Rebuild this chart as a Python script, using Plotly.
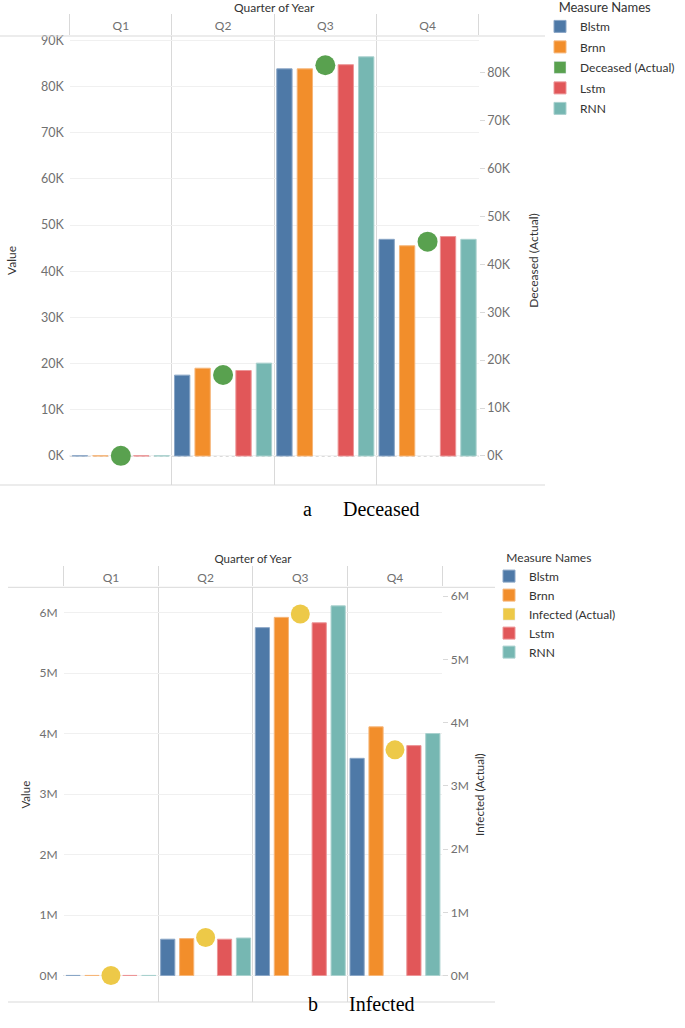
import plotly.graph_objects as go

# ---------------- data ----------------
quarters = ["Q1", "Q2", "Q3", "Q4"]
model_names = ["Blstm", "Brnn", "Lstm", "RNN"]

# Deceased panel
deceased_blstm = [40, 17500, 83800, 46900]
deceased_brnn = [38, 19000, 83800, 45500]
deceased_lstm = [42, 18500, 84700, 47500]
deceased_rnn = [37, 20100, 86400, 46900]
deceased_actual = [35, 16900, 81500, 44700]

# Infected panel
infected_blstm = [1500, 600000, 5750000, 3590000]
infected_brnn = [1450, 610000, 5920000, 4110000]
infected_lstm = [1550, 600000, 5830000, 3800000]
infected_rnn = [1480, 620000, 6110000, 4000000]
infected_actual = [1400, 600000, 5720000, 3570000]

# tick labels
dec_left_vals = [0, 10000, 20000, 30000, 40000, 50000, 60000, 70000, 80000, 90000]
dec_left_text = ["0K", "10K", "20K", "30K", "40K", "50K", "60K", "70K", "80K", "90K"]
dec_right_vals = [0, 10000, 20000, 30000, 40000, 50000, 60000, 70000, 80000]
dec_right_text = ["0K", "10K", "20K", "30K", "40K", "50K", "60K", "70K", "80K"]
inf_vals = [0, 1000000, 2000000, 3000000, 4000000, 5000000, 6000000]
inf_text = ["0M", "1M", "2M", "3M", "4M", "5M", "6M"]

# ---------------- style ----------------
COLORS = {"Blstm": "#4E79A7", "Brnn": "#F28E2B", "Lstm": "#E15759", "RNN": "#76B7B2"}
EDGE = {"Blstm": "#8aa6c6", "Brnn": "#f6b679", "Lstm": "#ec9597", "RNN": "#a9d1ce"}
GREEN = "#59A14F"
YELLOW = "#EDC948"
SLOT = {"Blstm": 0, "Brnn": 1, "Lstm": 3, "RNN": 4}
FONT = "Lato, 'Open Sans', sans-serif"
GRID = "#d9d9d9"
LIGHT = "#f0f0f0"
TICKC = "#707070"
TITLEC = "#333333"

W, H = 685, 1028


def px_x(p):
    return p / W


def px_y(p):
    return 1 - p / H


NB = "\u00a0"

fig = go.Figure()

panels = [
    dict(xa="x", yl="y", yr="y2", leg="legend",
         series={"Blstm": deceased_blstm, "Brnn": deceased_brnn,
                 "Lstm": deceased_lstm, "RNN": deceased_rnn},
         actual=deceased_actual, actual_name="Deceased (Actual)", actual_color=GREEN,
         msize=20),
    dict(xa="x2", yl="y3", yr="y4", leg="legend2",
         series={"Blstm": infected_blstm, "Brnn": infected_brnn,
                 "Lstm": infected_lstm, "RNN": infected_rnn},
         actual=infected_actual, actual_name="Infected (Actual)", actual_color=YELLOW,
         msize=19),
]

slot_w = 0.2
bar_w = 0.15
legend_order = ["Blstm", "Brnn", "ACTUAL", "Lstm", "RNN"]
for pi, p in enumerate(panels):
    for m in legend_order:
        if m == "ACTUAL":
            # square legend swatch for the actual series (values empty: no bars drawn)
            fig.add_trace(go.Bar(
                x=quarters, y=[None] * len(quarters), name=p["actual_name"],
                xaxis=p["xa"], yaxis=p["yl"], legend=p["leg"],
                legendgroup=f"p{pi}_actual",
                marker=dict(color=p["actual_color"]), hoverinfo="skip",
            ))
            continue
        fig.add_trace(go.Bar(
            x=quarters, y=p["series"][m], name=m,
            xaxis=p["xa"], yaxis=p["yl"], legend=p["leg"], legendgroup=f"p{pi}_{m}",
            marker=dict(color=COLORS[m], line=dict(color=EDGE[m], width=1)),
            width=bar_w, offset=-0.5 + SLOT[m] * slot_w + (slot_w - bar_w) / 2,
            hoverinfo="x+y+name",
        ))
    fig.add_trace(go.Scatter(
        x=quarters, y=p["actual"], name=p["actual_name"], mode="markers",
        xaxis=p["xa"], yaxis=p["yr"], showlegend=False,
        marker=dict(color=p["actual_color"], size=p["msize"], line=dict(width=0)),
    ))

xa_common = dict(
    type="category", categoryorder="array", categoryarray=quarters,
    side="top", tickson="boundaries", showgrid=True, gridcolor=GRID, gridwidth=1,
    ticks="outside", tickcolor=GRID, tickwidth=1, showline=False, zeroline=False,
    tickfont=dict(family=FONT, size=12, color=TICKC), automargin=False,
    fixedrange=True,
)
y_common = dict(zeroline=False, fixedrange=True, automargin=False)

fig.update_layout(
    width=W, height=H, margin=dict(l=0, r=0, t=0, b=0, autoexpand=False),
    paper_bgcolor="white", plot_bgcolor="white",
    barmode="overlay", font=dict(family=FONT, color=TITLEC),
    xaxis=dict(xa_common, domain=[px_x(69.7), px_x(478.7)], anchor="y",
               ticklen=21, ticklabelstandoff=3,
               title=dict(text="Quarter of Year", standoff=3,
                          font=dict(family=FONT, size=12, color=TITLEC))),
    yaxis=dict(y_common, domain=[px_y(485), px_y(36)], range=[-6280, 90910],
               tickvals=dec_left_vals, ticktext=dec_left_text, ticklabelstandoff=5,
               tickfont=dict(family=FONT, size=12.5, color=TICKC),
               showgrid=True, gridcolor=LIGHT, anchor="x",
               title=dict(text="Value", standoff=21,
                          font=dict(family=FONT, size=12, color=TITLEC))),
    yaxis2=dict(y_common, overlaying="y", side="right", anchor="x",
                range=[-6050, 87590], tickvals=dec_right_vals, ticktext=dec_right_text,
                tickfont=dict(family=FONT, size=12.5, color=TICKC),
                showgrid=False, ticks="outside", ticklen=5, tickcolor=GRID,
                title=dict(text="Deceased (Actual)", standoff=19,
                           font=dict(family=FONT, size=12, color=TITLEC))),
    xaxis2=dict(xa_common, domain=[px_x(63.6), px_x(442.3)], anchor="y3",
                ticklen=20, ticklabelstandoff=2,
                title=dict(text="Quarter of Year", standoff=3,
                           font=dict(family=FONT, size=11.5, color=TITLEC))),
    yaxis3=dict(y_common, domain=[px_y(1002), px_y(587.3)], range=[-438000, 6417000],
                tickvals=inf_vals, ticktext=inf_text, ticklabelstandoff=5,
                tickfont=dict(family=FONT, size=12, color=TICKC),
                showgrid=True, gridcolor=LIGHT, anchor="x2",
                title=dict(text="Value", standoff=6,
                           font=dict(family=FONT, size=11.5, color=TITLEC))),
    yaxis4=dict(y_common, overlaying="y3", side="right", anchor="x2",
                range=[-419000, 6142000], tickvals=inf_vals, ticktext=inf_text,
                tickfont=dict(family=FONT, size=12, color=TICKC),
                showgrid=False, ticks="outside", ticklen=5, tickcolor=GRID,
                title=dict(text="Infected (Actual)", standoff=8,
                           font=dict(family=FONT, size=11.5, color=TITLEC))),
    legend=dict(x=px_x(540), y=px_y(-5), xanchor="left", yanchor="top",
                title=dict(text=NB * 5 + "Measure Names",
                           font=dict(family=FONT, size=13, color=TITLEC)),
                font=dict(family=FONT, size=12, color=TITLEC),
                traceorder="grouped", tracegroupgap=1.5,
                itemclick=False, itemdoubleclick=False, bgcolor="rgba(0,0,0,0)"),
    legend2=dict(x=px_x(489), y=px_y(546), xanchor="left", yanchor="top",
                 title=dict(text=NB * 5 + "Measure Names",
                            font=dict(family=FONT, size=12, color=TITLEC)),
                 font=dict(family=FONT, size=12, color=TITLEC),
                 traceorder="grouped", tracegroupgap=0,
                 itemclick=False, itemdoubleclick=False, bgcolor="rgba(0,0,0,0)"),
    showlegend=True,
)

shapes = []
# header / bottom border lines
for y0, xa, xb in [(36, 0, 545), (485, 0, 545), (587.3, 8, 495), (1002, 8, 495)]:
    shapes.append(dict(type="line", xref="paper", yref="paper",
                       x0=px_x(xa), x1=px_x(xb), y0=px_y(y0), y1=px_y(y0),
                       line=dict(color=GRID, width=1)))
# dotted zero lines
for xr, yr in [("x", "y"), ("x2", "y3")]:
    shapes.append(dict(type="line", xref=xr + " domain", yref=yr, x0=0, x1=1, y0=0, y1=0,
                       line=dict(color="#b5b5b5", width=1, dash="dot"), layer="below"))
fig.update_layout(shapes=shapes)

CAP = "'Liberation Serif', 'Times New Roman', serif"
fig.add_annotation(text="a", x=px_x(307), y=px_y(509), xref="paper", yref="paper",
                   showarrow=False, font=dict(family=CAP, size=20, color="black"))
fig.add_annotation(text="Deceased", x=px_x(341), y=px_y(509), xref="paper", yref="paper",
                   xanchor="left", showarrow=False, font=dict(family=CAP, size=20, color="black"))
fig.add_annotation(text="b", x=px_x(313), y=px_y(1017), xref="paper", yref="paper",
                   showarrow=False, font=dict(family=CAP, size=20, color="black"))
fig.add_annotation(text="Infected", x=px_x(347), y=px_y(1017), xref="paper", yref="paper",
                   xanchor="left", showarrow=False, font=dict(family=CAP, size=20, color="black"))

# remove the browser's default 8px body margin so the figure fills the window exactly
fig.write_html("out.html", config={"displayModeBar": False},
               post_script="document.body.style.margin='0';")
